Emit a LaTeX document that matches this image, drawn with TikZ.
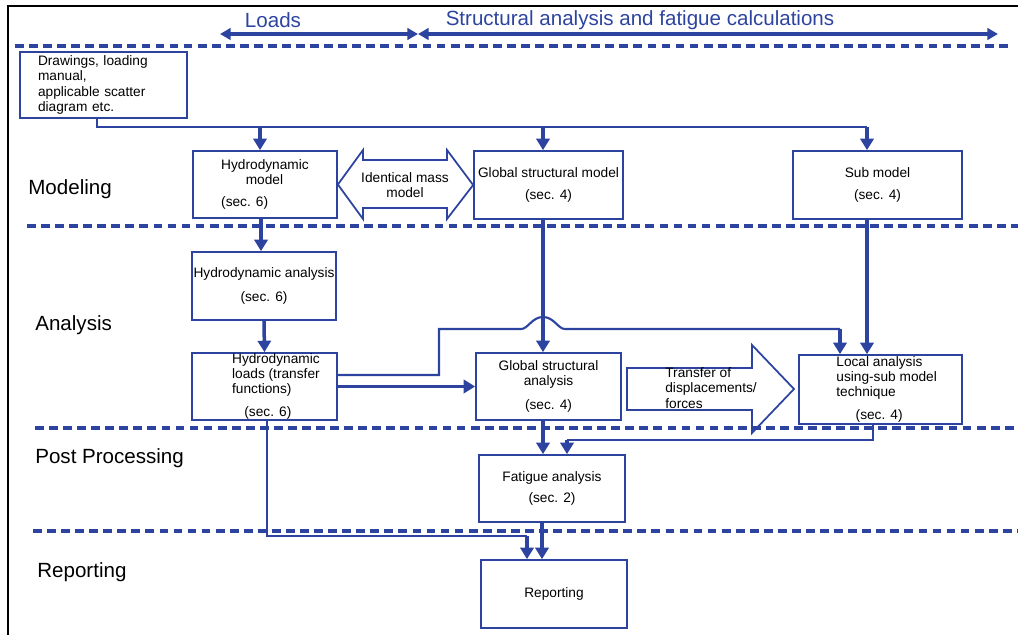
\documentclass[tikz,border=0pt]{standalone}
\usepackage{fontspec}
\setmainfont{Liberation Sans}
\usetikzlibrary{arrows.meta}
\definecolor{flowblue}{RGB}{44,68,160}

\begin{document}
\begin{tikzpicture}[x=0.02cm, y=-0.02cm,
    flowbox/.style={draw=flowblue, line width=1pt, inner sep=0pt, align=center,
        font=\fontsize{7.8}{8.4}\selectfont},
    boxnote/.style={inner sep=0pt, align=left, font=\fontsize{7.8}{8.6}\selectfont},
    rowlabel/.style={anchor=west, inner sep=0pt, font=\fontsize{11.7}{13}\selectfont},
    headlabel/.style={text=flowblue, inner sep=0pt, font=\fontsize{11.7}{13}\selectfont},
    feed/.style={draw=flowblue, line width=1.2pt},
    flow/.style={draw=flowblue, line width=2pt, -{Triangle[length=6.5pt,width=7.5pt]}},
    lane/.style={draw=flowblue, line width=2pt, dash pattern=on 5pt off 3pt},
    rangearrow/.style={draw=flowblue, line width=1.8pt,
        {Triangle[length=6pt,width=6.5pt]}-{Triangle[length=6pt,width=6.5pt]}},
    hollow/.style={draw=flowblue, line width=1pt, line join=miter}]
\useasboundingbox (0,0) rectangle (1018,635);

% ========= 外框与表头 =========
\draw[line width=1.4pt] (8,635) -- (8,6) -- (1018,6);
\node[headlabel] (loads) at (273,20) {Loads};
\node[headlabel] (calc) at (640,20) {Structural analysis and fatigue calculations};
\coordinate (spanL) at (220,34);
\coordinate (spanM) at (418,34);
\coordinate (spanR) at (998,34);
\draw[rangearrow] (spanL) -- (spanM);
\draw[rangearrow] (spanM) -- (spanR);

% 分隔虚线
\draw[lane] (15,46) -- (1012,46);
\draw[lane] (27,226) -- (1018,226);
\draw[lane] (35,428) -- (1018,428);
\draw[lane] (33,531) -- (1018,531);

% 行标题
\node[rowlabel] (rmod) at (28,189) {Modeling};
\node[rowlabel] (rana) at (35,325) {Analysis};
\node[rowlabel] (rpost) at (35,458) {Post Processing};
\node[rowlabel] (rrep) at (37,572) {Reporting};

% ========= 方框 =========
\node[flowbox, align=left, text width=2.62cm, inner xsep=0.36cm, minimum height=1.32cm,
    font=\fontsize{7.8}{8.9}\selectfont]
    (src) at (103.5,85) {Drawings, loading\\manual,\\applicable scatter\\diagram etc.};
\node[flowbox, align=left, minimum width=2.88cm, minimum height=1.34cm] (hmod) at (265,184.5)
    {Hydrodynamic\\\hspace*{14pt}model\\[4.5pt](sec. 6)};
\node[flowbox, minimum width=2.98cm, minimum height=1.36cm] (gmod) at (548.5,185)
    {Global structural model\\[4.5pt](sec. 4)};
\node[flowbox, minimum width=3.38cm, minimum height=1.36cm] (smod) at (877.5,185)
    {Sub model\\[4.5pt](sec. 4)};
\node[flowbox, minimum width=2.88cm, minimum height=1.36cm] (hana) at (264,286)
    {Hydrodynamic analysis\\[5pt](sec. 6)};
\node[flowbox, align=left, minimum width=2.9cm, minimum height=1.34cm] (hload) at (264.5,386.5)
    {\hspace*{13pt}Hydrodynamic\\\hspace*{13pt}loads (transfer\\\hspace*{13pt}functions)\\[5pt]\hspace*{20pt}(sec. 6)};
\node[flowbox, minimum width=2.9cm, minimum height=1.34cm] (gana) at (548.5,386.5)
    {Global structural\\analysis\\[5pt](sec. 4)};
\node[flowbox, align=left, minimum width=3.26cm, minimum height=1.38cm] (lana) at (880.5,389.5)
    {\hspace*{7pt}Local analysis\\\hspace*{7pt}using-sub model\\\hspace*{7pt}technique\\[5pt]\hspace*{18pt}(sec. 4)};
\node[flowbox, minimum width=2.92cm, minimum height=1.34cm] (fat) at (552,488.5)
    {Fatigue analysis\\[4pt](sec. 2)};
\node[flowbox, minimum width=2.92cm, minimum height=1.36cm] (rep) at (554,594) {Reporting};

% ========= 空心箭头 =========
\draw[hollow] (hmod.east) -- (363,150) -- (363,160) -- (447,160) -- (447,150) -- (gmod.west)
    -- (447,219) -- (447,208) -- (363,208) -- (363,219) -- cycle;
\node[boxnote, align=center] (idm) at (405,185) {Identical mass\\model};
\draw[hollow] (627,368) -- (752,368) -- (752,345) -- (794,389) -- (752,433) -- (752,410)
    -- (627,410) -- cycle;
\node[boxnote, anchor=west] (tfd) at (665,388) {Transfer of\\displacements/\\forces};

% ========= 连线 =========
% 顶部分配线
\coordinate (bus) at (97,127);
\draw[feed] (src.south -| bus) -- (bus) -- (867,127);
\draw[flow] (260,127) -- (hmod.north -| 260,0);
\draw[flow] (543,127) -- (gmod.north -| 543,0);
\draw[flow] (867,127) -- (smod.north -| 867,0);

% 竖向主流程
\draw[flow] (hmod.south -| 261,0) -- (hana.north -| 261,0);
\draw[flow] (hana.south) -- (hload.north);
\draw[flow] (gmod.south -| 543,0) -- (gana.north -| 543,0);
\draw[flow] (smod.south -| 867,0) -- (lana.north -| 867,0);
\draw[flow] (hload.east) -- (gana.west);

% 跨线（绕过竖线）到局部分析
\coordinate (jog) at (439,329);
\draw[feed] (hload.east |- 0,375) -| (jog) -- (521,329)
    .. controls (528,329) and (532,317) .. (543,317)
    .. controls (554,317) and (558,329) .. (565,329) -- (840,329);
\draw[flow] (840,329) -- (lana.north -| 840,0);

% 后处理与报告
\draw[flow] (gana.south -| 543,0) -- (fat.north -| 543,0);
\coordinate (lret) at (873,440);
\draw[feed] (lana.south -| lret) -- (lret) -- (567,440);
\draw[flow] (567,440) -- (fat.north -| 567,0);
\draw[flow] (fat.south -| 542,0) -- (rep.north -| 542,0);
\coordinate (hret) at (267,536);
\draw[feed] (hload.south -| hret) -- (hret) -- (527,536);
\draw[flow] (527,536) -- (rep.north -| 527,0);
\end{tikzpicture}
\end{document}
